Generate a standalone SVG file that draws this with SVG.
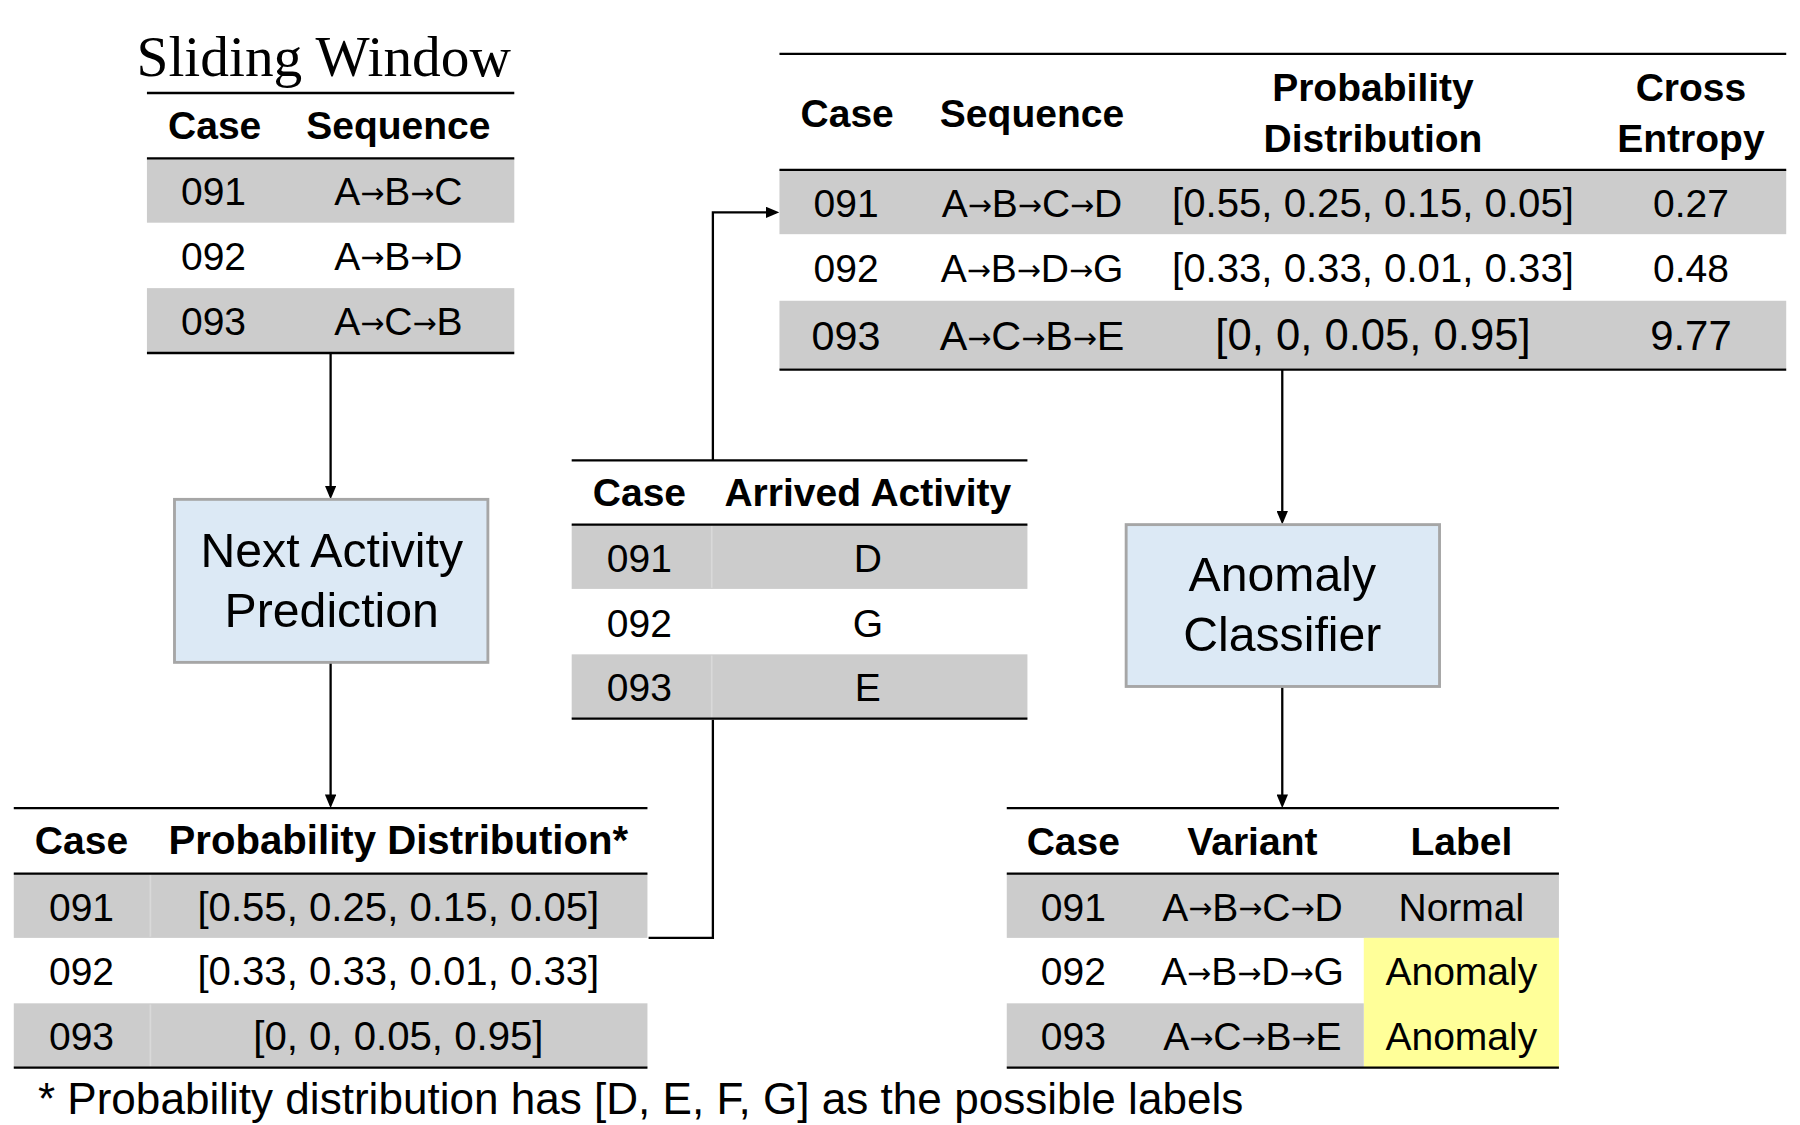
<svg xmlns="http://www.w3.org/2000/svg" width="1800" height="1125" viewBox="0 0 1800 1125">
<defs>
<style>
text { font-family: "Liberation Sans", Arial, sans-serif; fill: #000; }
.h { font-weight: bold; font-size: 34px; text-anchor: middle; }
.b { font-size: 34px; text-anchor: middle; }
.p { font-size: 35px; }
.bx { font-size: 42px; text-anchor: middle; }
.ar { font-family: "DejaVu Sans", sans-serif; font-size: 25px; }
.ln { stroke: #000; stroke-width: 2; fill: none; }
.dv { stroke: #d9d9d9; stroke-width: 1.5; }
.g { fill: #cccccc; }
.y { fill: #ffff99; }
.w { fill: #ffffff; }
.box { fill: #dce9f5; stroke: #a6a6a6; stroke-width: 2.5; }
.conn { fill: none; stroke: #000; stroke-width: 2; }
</style>
<marker id="ah" viewBox="0 0 12 10" refX="9" refY="5" markerWidth="12" markerHeight="10" markerUnits="userSpaceOnUse" orient="auto">
<path d="M0,0 L12,5 L0,10 z" fill="#000"/>
</marker>
</defs>
<rect width="1800" height="1125" fill="#fff"/>
<g transform="scale(1.147959)">
<g id="connectors">
<path class="conn" d="M288,308 V432" marker-end="url(#ah)"/>
<path class="conn" d="M288,577 V701" marker-end="url(#ah)"/>
<path class="conn" d="M565,817 H621 V185 H676" marker-end="url(#ah)"/>
<path class="conn" d="M1117,322 V454" marker-end="url(#ah)"/>
<path class="conn" d="M1117,598 V701" marker-end="url(#ah)"/>
</g>

<g id="t-sliding">
<text x="282" y="66" style="font-family:'Liberation Serif','Times New Roman',serif;font-size:50px;text-anchor:middle">Sliding Window</text>
<rect class="g" x="128" y="138" width="320" height="56"/>
<rect class="g" x="128" y="251" width="320" height="56"/>
<line class="ln" x1="128" y1="81" x2="448" y2="81"/>
<line class="ln" x1="128" y1="138" x2="448" y2="138"/>
<line class="ln" x1="128" y1="307.5" x2="448" y2="307.5"/>
<text class="h" x="187" y="121">Case</text>
<text class="h" x="347" y="121">Sequence</text>
<text class="b" x="186" y="179">091</text>
<text class="b" x="347" y="179">A<tspan class="ar" dy="-2">→</tspan><tspan dy="2">B</tspan><tspan class="ar" dy="-2">→</tspan><tspan dy="2">C</tspan></text>
<text class="b" x="186" y="235">092</text>
<text class="b" x="347" y="235">A<tspan class="ar" dy="-2">→</tspan><tspan dy="2">B</tspan><tspan class="ar" dy="-2">→</tspan><tspan dy="2">D</tspan></text>
<text class="b" x="186" y="292">093</text>
<text class="b" x="347" y="292">A<tspan class="ar" dy="-2">→</tspan><tspan dy="2">C</tspan><tspan class="ar" dy="-2">→</tspan><tspan dy="2">B</tspan></text>
</g>

<g id="n-nap">
<rect class="box" x="152" y="435" width="273" height="142"/>
<text class="bx" x="289" y="494">Next Activity</text>
<text class="bx" x="289" y="546">Prediction</text>
</g>

<g id="t-prob">
<rect class="g" x="12" y="761" width="552" height="56"/>
<rect class="g" x="12" y="874" width="552" height="56"/>
<line class="dv" x1="131" y1="762" x2="131" y2="816"/>
<line class="dv" x1="131" y1="875" x2="131" y2="929"/>
<line class="ln" x1="12" y1="704" x2="564" y2="704"/>
<line class="ln" x1="12" y1="761" x2="564" y2="761"/>
<line class="ln" x1="12" y1="930" x2="564" y2="930"/>
<text class="h" x="71" y="744">Case</text>
<text class="h" x="347" y="744" style="font-size:35px">Probability Distribution*</text>
<text class="b" x="71" y="802">091</text>
<text class="b p" x="347" y="802">[0.55, 0.25, 0.15, 0.05]</text>
<text class="b" x="71" y="858">092</text>
<text class="b p" x="347" y="858">[0.33, 0.33, 0.01, 0.33]</text>
<text class="b" x="71" y="915">093</text>
<text class="b p" x="347" y="915">[0, 0, 0.05, 0.95]</text>
<text x="33" y="970" style="font-size:38.4px">* Probability distribution has [D, E, F, G] as the possible labels</text>
</g>

<g id="t-arrived">
<rect class="w" x="498" y="401" width="397" height="226"/>
<rect class="g" x="498" y="457" width="397" height="56"/>
<rect class="g" x="498" y="570" width="397" height="56"/>
<line class="dv" x1="620" y1="458" x2="620" y2="512"/>
<line class="dv" x1="620" y1="571" x2="620" y2="625"/>
<line class="ln" x1="498" y1="401" x2="895" y2="401"/>
<line class="ln" x1="498" y1="457" x2="895" y2="457"/>
<line class="ln" x1="498" y1="626" x2="895" y2="626"/>
<text class="h" x="557" y="441">Case</text>
<text class="h" x="756" y="441">Arrived Activity</text>
<text class="b" x="557" y="498">091</text>
<text class="b" x="756" y="498">D</text>
<text class="b" x="557" y="555">092</text>
<text class="b" x="756" y="555">G</text>
<text class="b" x="557" y="611">093</text>
<text class="b" x="756" y="611">E</text>
</g>

<g id="t-entropy">
<rect class="g" x="679" y="148" width="877" height="56"/>
<rect class="g" x="679" y="262" width="877" height="59"/>
<line class="ln" x1="679" y1="47" x2="1556" y2="47"/>
<line class="ln" x1="679" y1="148" x2="1556" y2="148"/>
<line class="ln" x1="679" y1="322" x2="1556" y2="322"/>
<text class="h" x="738" y="111">Case</text>
<text class="h" x="899" y="111">Sequence</text>
<text class="h" x="1196" y="88">Probability</text>
<text class="h" x="1196" y="132">Distribution</text>
<text class="h" x="1473" y="88">Cross</text>
<text class="h" x="1473" y="132">Entropy</text>
<text class="b" x="737" y="189">091</text>
<text class="b" x="899" y="189">A<tspan class="ar" dy="-2">→</tspan><tspan dy="2">B</tspan><tspan class="ar" dy="-2">→</tspan><tspan dy="2">C</tspan><tspan class="ar" dy="-2">→</tspan><tspan dy="2">D</tspan></text>
<text class="b p" x="1196" y="189">[0.55, 0.25, 0.15, 0.05]</text>
<text class="b" x="1473" y="189">0.27</text>
<text class="b" x="737" y="246">092</text>
<text class="b" x="899" y="246">A<tspan class="ar" dy="-2">→</tspan><tspan dy="2">B</tspan><tspan class="ar" dy="-2">→</tspan><tspan dy="2">D</tspan><tspan class="ar" dy="-2">→</tspan><tspan dy="2">G</tspan></text>
<text class="b p" x="1196" y="246">[0.33, 0.33, 0.01, 0.33]</text>
<text class="b" x="1473" y="246">0.48</text>
<text class="b" x="737" y="305" style="font-size:36px">093</text>
<text class="b" x="899" y="305" style="font-size:36px">A<tspan class="ar" dy="-2">→</tspan><tspan dy="2">C</tspan><tspan class="ar" dy="-2">→</tspan><tspan dy="2">B</tspan><tspan class="ar" dy="-2">→</tspan><tspan dy="2">E</tspan></text>
<text class="b" x="1196" y="305" style="font-size:38px">[0, 0, 0.05, 0.95]</text>
<text class="b" x="1473" y="305" style="font-size:36.5px">9.77</text>
</g>

<g id="n-anomaly">
<rect class="box" x="981" y="457" width="273" height="141"/>
<text class="bx" x="1117" y="515">Anomaly</text>
<text class="bx" x="1117" y="567">Classifier</text>
</g>

<g id="t-label">
<rect class="g" x="877" y="761" width="481" height="56"/>
<rect class="y" x="1188" y="817" width="170" height="113"/>
<rect class="g" x="877" y="874" width="311" height="56"/>
<line class="ln" x1="877" y1="704" x2="1358" y2="704"/>
<line class="ln" x1="877" y1="761" x2="1358" y2="761"/>
<line class="ln" x1="877" y1="930" x2="1358" y2="930"/>
<text class="h" x="935" y="745">Case</text>
<text class="h" x="1091" y="745">Variant</text>
<text class="h" x="1273" y="745">Label</text>
<text class="b" x="935" y="802">091</text>
<text class="b" x="1091" y="802">A<tspan class="ar" dy="-2">→</tspan><tspan dy="2">B</tspan><tspan class="ar" dy="-2">→</tspan><tspan dy="2">C</tspan><tspan class="ar" dy="-2">→</tspan><tspan dy="2">D</tspan></text>
<text class="b" x="1273" y="802">Normal</text>
<text class="b" x="935" y="858">092</text>
<text class="b" x="1091" y="858">A<tspan class="ar" dy="-2">→</tspan><tspan dy="2">B</tspan><tspan class="ar" dy="-2">→</tspan><tspan dy="2">D</tspan><tspan class="ar" dy="-2">→</tspan><tspan dy="2">G</tspan></text>
<text class="b" x="1273" y="858">Anomaly</text>
<text class="b" x="935" y="915">093</text>
<text class="b" x="1091" y="915">A<tspan class="ar" dy="-2">→</tspan><tspan dy="2">C</tspan><tspan class="ar" dy="-2">→</tspan><tspan dy="2">B</tspan><tspan class="ar" dy="-2">→</tspan><tspan dy="2">E</tspan></text>
<text class="b" x="1273" y="915">Anomaly</text>
</g>
</g>
</svg>
